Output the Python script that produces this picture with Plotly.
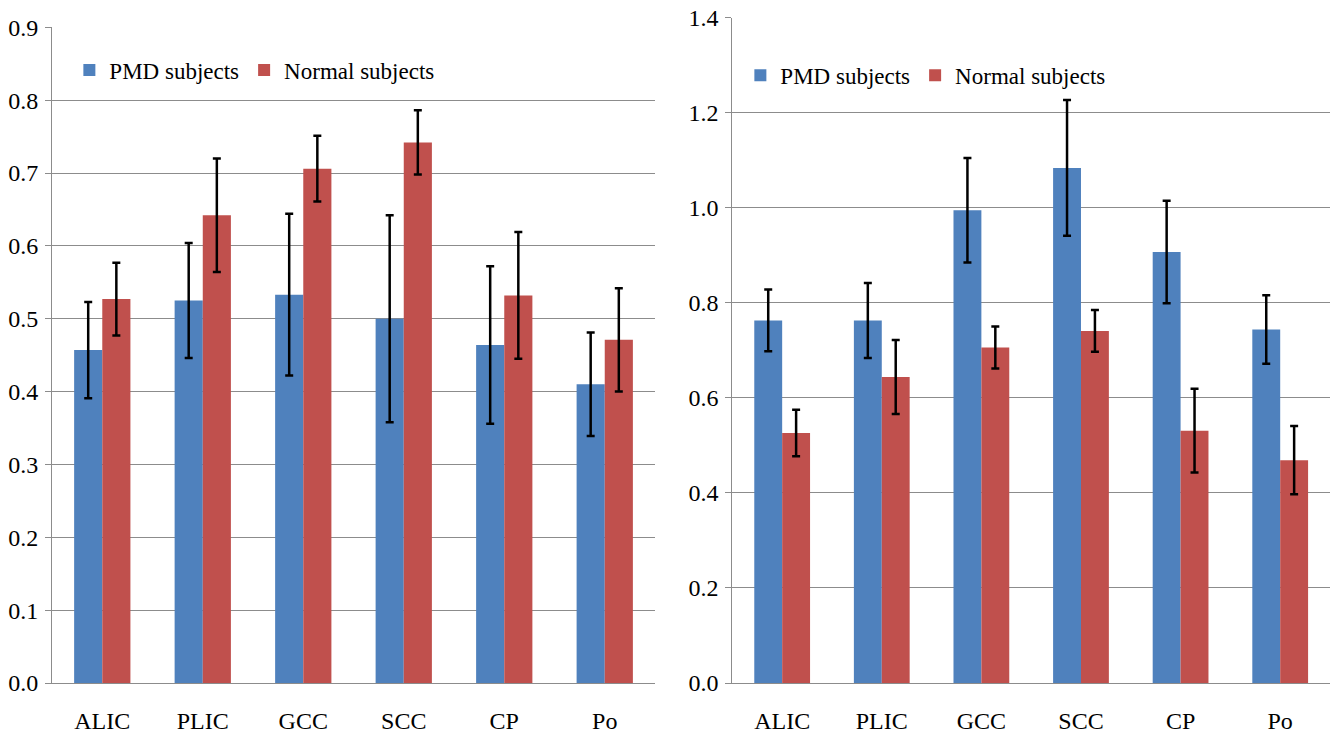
import plotly.graph_objects as go

categories = ["ALIC", "PLIC", "GCC", "SCC", "CP", "Po"]

# Left panel
left_pmd = [0.457, 0.525, 0.533, 0.500, 0.464, 0.410]
left_pmd_err = [0.066, 0.079, 0.111, 0.142, 0.108, 0.071]
left_normal = [0.527, 0.642, 0.706, 0.742, 0.532, 0.471]
left_normal_err = [0.050, 0.078, 0.045, 0.044, 0.087, 0.071]

# Right panel
right_pmd = [0.763, 0.763, 0.995, 1.084, 0.907, 0.744]
right_pmd_err = [0.065, 0.079, 0.110, 0.143, 0.108, 0.072]
right_normal = [0.526, 0.644, 0.706, 0.741, 0.531, 0.469]
right_normal_err = [0.049, 0.078, 0.044, 0.044, 0.088, 0.072]

left_ticks = [0.0, 0.1, 0.2, 0.3, 0.4, 0.5, 0.6, 0.7, 0.8, 0.9]
right_ticks = [0.0, 0.2, 0.4, 0.6, 0.8, 1.0, 1.2, 1.4]

BLUE = "#4F81BD"
RED = "#C0504D"
GRID = "#8C8C8C"
FONT = "Liberation Serif"

fig = go.Figure()

def add_bar(x, y, err, name, color, xa, ya, legend):
    fig.add_trace(go.Bar(
        x=x, y=y, name=name, marker=dict(color=color, line=dict(width=0)),
        error_y=dict(type="data", array=err, visible=True, color="black",
                     thickness=2.5, width=4),
        xaxis=xa, yaxis=ya, legend=legend,
    ))

add_bar(categories, left_pmd, left_pmd_err, "PMD subjects", BLUE, "x", "y", "legend")
add_bar(categories, left_normal, left_normal_err, "Normal subjects", RED, "x", "y", "legend")
add_bar(categories, right_pmd, right_pmd_err, "PMD subjects", BLUE, "x2", "y2", "legend2")
add_bar(categories, right_normal, right_normal_err, "Normal subjects", RED, "x2", "y2", "legend2")

xcommon = dict(showline=True, linecolor=GRID, linewidth=1, showgrid=False,
               ticks="", tickfont=dict(family=FONT, size=24, color="black"),
               ticklabelstandoff=16, automargin=False)
ycommon = dict(showline=True, linecolor=GRID, linewidth=1, showgrid=True,
               gridcolor=GRID, gridwidth=1, ticks="outside", ticklen=6,
               tickcolor=GRID, tickfont=dict(family=FONT, size=24, color="black"),
               zeroline=False, tickformat=".1f", automargin=False,
               ticklabelstandoff=2)

legend_common = dict(orientation="h", bgcolor="rgba(0,0,0,0)",
                     font=dict(family=FONT, size=23, color="black"),
                     itemwidth=30, tracegroupgap=0, xanchor="left", yanchor="middle")

fig.update_layout(
    width=1334, height=738,
    margin=dict(l=0, r=0, t=0, b=0),
    paper_bgcolor="white", plot_bgcolor="white",
    font=dict(family=FONT, color="black"),
    barmode="group", bargap=0.44, bargroupgap=0,
    xaxis=dict(domain=[0.039, 0.491], anchor="y", **xcommon),
    yaxis=dict(domain=[0.0745, 0.963], range=[0, 0.9], tickvals=left_ticks,
               anchor="x", **ycommon),
    xaxis2=dict(domain=[0.549, 0.997], anchor="y2", **xcommon),
    yaxis2=dict(domain=[0.0745, 0.976], range=[0, 1.4], tickvals=right_ticks,
                anchor="x2", **ycommon),
    legend=dict(x=0.052, y=0.905, **legend_common),
    legend2=dict(x=0.555, y=0.898, **legend_common),
)

fig.write_html("out.html")
